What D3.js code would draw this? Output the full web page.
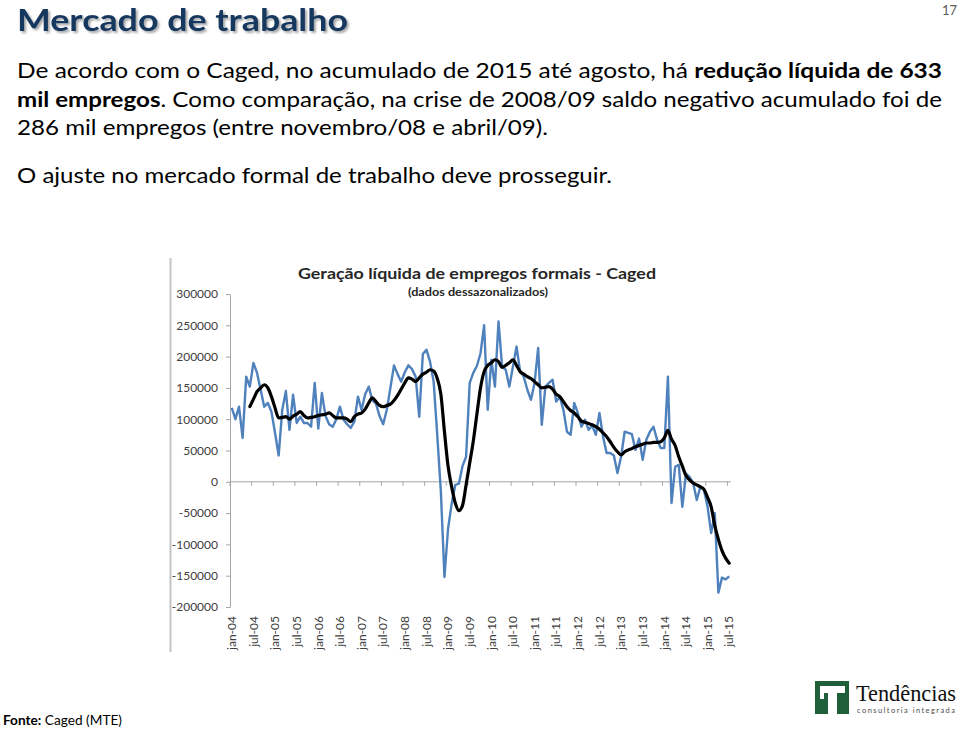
<!DOCTYPE html>
<html>
<head>
<meta charset="utf-8">
<script src="https://cdn.jsdelivr.net/npm/d3@7"></script>
<style>
  body { margin: 0; background: #fff; }
  svg { display: block; font-family: Lato, 'Open Sans', sans-serif; }
</style>
</head>
<body>
<svg id="slide"></svg>
<script>
// categorias mensais jan-04 .. jul-15
const MONTHS = ['jan', 'fev', 'mar', 'abr', 'mai', 'jun', 'jul', 'ago', 'set', 'out', 'nov', 'dez']
const YEARS = ['04', '05', '06', '07', '08', '09', '10', '11', '12', '13', '14', '15']
const TICK_LABELS = ['jan-04', 'jul-04', 'jan-05', 'jul-05', 'jan-06', 'jul-06', 'jan-07', 'jul-07',
  'jan-08', 'jul-08', 'jan-09', 'jul-09', 'jan-10', 'jul-10', 'jan-11', 'jul-11', 'jan-12', 'jul-12',
  'jan-13', 'jul-13', 'jan-14', 'jul-14', 'jan-15', 'jul-15']
const Y_TICKS = [300, 250, 200, 150, 100, 50, 0, -50, -100, -150, -200]

// saldo mensal dessazonalizado (mil empregos)
const saldo = [
  118, 100, 120, 70, 168, 152, 190, 174, 147, 120, 126, 112,
  78, 42, 115, 145, 83, 139, 94, 104, 94, 94, 88, 158,
  85, 142, 105, 92, 88, 100, 120, 99, 92, 86, 96, 136,
  115, 140, 152, 130, 125, 105, 92, 115, 150, 186, 172, 160,
  175, 186, 180, 168, 104, 204, 211, 192, 160, 75, -15, -152,
  -75, -35, -5, -3, 25, 40, 158, 174, 185, 205, 250, 115,
  195, 152, 256, 184, 179, 152, 184, 216, 176, 168, 147, 131,
  158, 214, 91, 152, 158, 163, 128, 136, 115, 80, 75, 126,
  110, 88, 99, 83, 90, 75, 110, 72, 46, 46, 42, 14,
  40, 80, 78, 76, 51, 69, 35, 67, 80, 88, 67, 54,
  54, 168, -34, 24, 27, -40, 13, 8, -2, -29, -8, -13,
  -40, -82, -50, -177, -153, -156, -151
]

// media movel (linha preta)
const mediaMovel = [
  null, null, null, null, null, 120, 132, 144, 150, 155, 150, 136,
  118, 102, 103, 104, 100, 105, 108, 112, 106, 102, 103, 104,
  106, 107, 108, 110, 106, 102, 102, 102, 100, 96, 104, 108,
  110, 116, 126, 134, 128, 122, 120, 122, 124, 130, 138, 148,
  158, 166, 164, 160, 166, 172, 175, 179, 177, 165, 140, 80,
  25, -8, -34, -46, -38, -5, 30, 65, 108, 150, 176, 186,
  190, 195, 192, 183, 186, 190, 195, 186, 176, 172, 168, 165,
  160, 155, 150, 151, 152, 148, 140, 136, 128, 120, 114, 110,
  104, 97, 95, 93, 91, 88, 84, 78, 72, 64, 55, 48,
  43, 48, 51, 53, 56, 58, 60, 62, 62, 63, 63, 64,
  70, 82, 68, 58, 40, 25, 10, 3, -2, -5, -8, -12,
  -25, -40, -70, -92, -110, -122, -130
]

const categories = YEARS.flatMap(yy => MONTHS.map(m => `${m}-${yy}`)).slice(0, saldo.length)

const svg = d3.select('#slide')
  .attr('width', 960)
  .attr('height', 729)

const defs = svg.append('defs')
defs.append('filter')
  .attr('id', 'shadow')
  .attr('x', '-5%').attr('y', '-20%').attr('width', '110%').attr('height', '140%')
  .append('feDropShadow')
  .attr('dx', 2).attr('dy', 2).attr('stdDeviation', 1.3)
  .attr('flood-color', '#000').attr('flood-opacity', 0.35)

// cabecalho do slide
svg.append('text')
  .attr('x', 17)
  .attr('y', 31)
  .attr('font-size', 31)
  .attr('font-weight', 'bold')
  .attr('fill', '#17375e')
  .attr('filter', 'url(#shadow)')
  .attr('textLength', 331)
  .attr('lengthAdjust', 'spacingAndGlyphs')
  .text('Mercado de trabalho')

svg.append('text')
  .attr('x', 957)
  .attr('y', 15)
  .attr('text-anchor', 'end')
  .attr('font-size', 13)
  .attr('fill', '#595959')
  .text('17')

const lines = [
  { y: 78, w: 925, parts: [['De acordo com o Caged, no acumulado de 2015 até agosto, há ', false], ['redução líquida de 633', true]] },
  { y: 107, w: 925, parts: [['mil empregos', true], ['. Como comparação, na crise de 2008/09 saldo negativo acumulado foi de', false]] },
  { y: 135, w: 531, parts: [['286 mil empregos (entre novembro/08 e abril/09).', false]] },
  { y: 183, w: 595, parts: [['O ajuste no mercado formal de trabalho deve prosseguir.', false]] }
]

lines.forEach(l => {
  const t = svg.append('text')
    .attr('x', 17)
    .attr('y', l.y)
    .attr('font-size', 21)
    .attr('fill', '#000')
    .attr('textLength', l.w)
    .attr('lengthAdjust', 'spacingAndGlyphs')
  l.parts.forEach(([s, b]) => {
    t.append('tspan')
      .attr('font-weight', b ? 'bold' : 'normal')
      .text(s)
  })
})

// grafico
const x = d3.scaleBand()
  .domain(categories)
  .range([230, 731])

const cx = c => x(c) + x.bandwidth() / 2

const y = d3.scaleLinear()
  .domain([-200, 300])
  .range([607, 294])

svg.append('line')
  .attr('x1', 170.5).attr('x2', 170.5)
  .attr('y1', 258).attr('y2', 652)
  .attr('stroke', '#c4c4c4')
  .attr('stroke-width', 2)

svg.append('text')
  .attr('x', 477)
  .attr('y', 279)
  .attr('text-anchor', 'middle')
  .attr('font-size', 15.5)
  .attr('font-weight', 'bold')
  .attr('fill', '#262626')
  .attr('textLength', 358)
  .attr('lengthAdjust', 'spacingAndGlyphs')
  .text('Geração líquida de empregos formais - Caged')

svg.append('text')
  .attr('x', 478)
  .attr('y', 296)
  .attr('text-anchor', 'middle')
  .attr('font-size', 11.5)
  .attr('font-weight', 'bold')
  .attr('fill', '#262626')
  .attr('textLength', 140)
  .attr('lengthAdjust', 'spacingAndGlyphs')
  .text('(dados dessazonalizados)')

const yAxis = svg.append('g')
  .attr('transform', 'translate(230, 0)')
  .call(d3.axisLeft(y)
    .tickValues(Y_TICKS)
    .tickSize(4)
    .tickSizeOuter(0)
    .tickPadding(8)
    .tickFormat(d => d * 1000))

yAxis.attr('font-family', null).attr('font-size', 12)
yAxis.select('.domain').attr('stroke', '#a6a6a6')
yAxis.selectAll('.tick line').attr('stroke', '#a6a6a6')
yAxis.selectAll('.tick text').attr('fill', '#404040')

// eixo x na linha do zero
const xAxis = svg.append('g')
xAxis.append('line')
  .attr('x1', 230).attr('x2', 731)
  .attr('y1', y(0)).attr('y2', y(0))
  .attr('stroke', '#a6a6a6')

xAxis.selectAll('.xtick')
  .data(TICK_LABELS)
  .join('line')
  .attr('class', 'xtick')
  .attr('x1', d => x(d)).attr('x2', d => x(d))
  .attr('y1', y(0)).attr('y2', y(0) + 4)
  .attr('stroke', '#a6a6a6')

xAxis.selectAll('.xlabel')
  .data(TICK_LABELS)
  .join('text')
  .attr('class', 'xlabel')
  .attr('transform', d => `translate(${cx(d)}, 616) rotate(-90)`)
  .attr('text-anchor', 'end')
  .attr('dy', '0.35em')
  .attr('font-size', 12)
  .attr('fill', '#404040')
  .text(d => d)

const line = d3.line()
  .defined(d => d != null)
  .x((d, i) => cx(categories[i]))
  .y(d => y(d))

svg.append('path')
  .datum(saldo)
  .attr('fill', 'none')
  .attr('stroke', '#4f81bd')
  .attr('stroke-width', 2.4)
  .attr('stroke-linejoin', 'round')
  .attr('d', line)

svg.append('path')
  .datum(mediaMovel)
  .attr('fill', 'none')
  .attr('stroke', '#000')
  .attr('stroke-width', 3.2)
  .attr('stroke-linejoin', 'round')
  .attr('stroke-linecap', 'round')
  .attr('d', line.curve(d3.curveMonotoneX))

// rodape
const fonte = svg.append('text')
  .attr('x', 3)
  .attr('y', 725)
  .attr('font-size', 13)
  .attr('fill', '#000')
  .attr('textLength', 119)
  .attr('lengthAdjust', 'spacingAndGlyphs')
fonte.append('tspan').attr('font-weight', 'bold').text('Fonte:')
fonte.append('tspan').text(' Caged (MTE)')

// logo Tendencias
const logo = svg.append('g')
logo.append('rect')
  .attr('x', 815).attr('y', 681)
  .attr('width', 34).attr('height', 33)
  .attr('fill', '#1f5f3a')
logo.append('path')
  .attr('d', 'M820,686 H845 V693 H837 V714 H828 V693 H824 V699 H820 Z')
  .attr('fill', '#fff')
logo.append('text')
  .attr('x', 856)
  .attr('y', 701)
  .attr('font-family', "'Liberation Serif', 'DejaVu Serif', serif")
  .attr('font-size', 23)
  .attr('fill', '#111')
  .attr('textLength', 100)
  .attr('lengthAdjust', 'spacingAndGlyphs')
  .text('Tendências')
logo.append('text')
  .attr('x', 857)
  .attr('y', 713)
  .attr('font-size', 7.5)
  .attr('fill', '#4d4d4d')
  .attr('textLength', 98)
  .attr('lengthAdjust', 'spacing')
  .text('consultoria integrada')
</script>
</body>
</html>
